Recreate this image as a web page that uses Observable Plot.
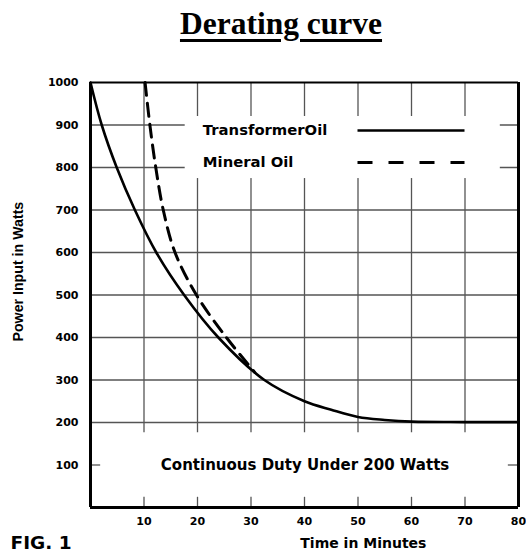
<!DOCTYPE html>
<html>
<head>
<meta charset="utf-8">
<script src="https://cdn.jsdelivr.net/npm/d3@7"></script>
<script src="https://cdn.jsdelivr.net/npm/@observablehq/plot@0.6"></script>
<style>
  body { margin: 0; background: #fff; }
  #wrap { position: relative; width: 526px; height: 553px; overflow: hidden; }
  #title {
    position: absolute; left: 0; top: 7.6px; width: 562px; text-align: center;
    font-family: "Liberation Serif", "Times New Roman", serif; font-weight: bold;
    font-size: 31.5px; line-height: 1; color: #000;
    text-decoration: underline; text-decoration-thickness: 3px; text-underline-offset: 5px;
  }
  #chart { position: absolute; left: 0; top: 0; }
</style>
</head>
<body>
<div id="wrap">
  <div id="chart"></div>
  <div id="title">Derating curve</div>
</div>
<script>
// Data
const transformerTime  = [0, 2.1, 4.9, 8.3, 12.3, 17.5, 23.9, 32.5, 40, 45, 50, 55, 60, 70, 80];
const transformerPower = [1000, 900, 800, 700, 600, 500, 400, 300, 250, 230, 213, 206, 202, 201, 201];
const mineralTime  = [10.2, 11.1, 12.2, 13.6, 15.8, 19.8, 25.4, 30.7];
const mineralPower = [1000, 900, 800, 700, 600, 500, 400, 318];

const xTicks = [10, 20, 30, 40, 50, 60, 70, 80];
const yTicks = [100, 200, 300, 400, 500, 600, 700, 800, 900, 1000];
const gridY = [200, 300, 400, 500, 600, 700, 800, 900];
const gridX = [10, 20, 30, 40, 50, 60, 70];

const seriesNames = ["TransformerOil", "Mineral Oil"];
const legendY = [887, 812];
const legendTextX = 21;
const legendLineX = [50, 70];
const legendBox = [{x1: 17.7, x2: 76.6, y1: 774, y2: 920}];

const note = "Continuous Duty Under 200 Watts";
const xLabel = "Time in Minutes";
const yLabel = "Power Input in Watts";
const figLabel = "FIG. 1";

const transformer = transformerTime.map((t, i) => ({t, p: transformerPower[i]}));
const mineral = mineralTime.map((t, i) => ({t, p: mineralPower[i]}));

const tickFont = {fontFamily: "DejaVu Sans", fontWeight: "bold", fontSize: 11};
const gridStyle = {stroke: "#555", strokeWidth: 1.3};

const chart = Plot.plot({
  width: 526,
  height: 553,
  marginLeft: 90,
  marginRight: 8,
  marginTop: 82,
  marginBottom: 46,
  x: {domain: [0, 80]},
  y: {domain: [0, 1000]},
  style: {background: "white", color: "black", overflow: "visible"},
  marks: [
    // grid
    Plot.ruleY(gridY, {x1: 0, x2: 80, ...gridStyle}),
    Plot.ruleX(gridX, {y1: 176, y2: 1000, ...gridStyle}),
    Plot.ruleX(gridX, {y1: 0, y2: 24, ...gridStyle}),
    Plot.ruleY([100], {x1: 0, x2: 1.9, ...gridStyle}),
    Plot.ruleY([100], {x1: 78.1, x2: 80, ...gridStyle}),
    // legend box
    Plot.rect(legendBox, {x1: "x1", x2: "x2", y1: "y1", y2: "y2", fill: "white"}),
    // frame
    Plot.ruleY([1000], {x1: 0, x2: 80, stroke: "black", strokeWidth: 2}),
    Plot.ruleY([0], {x1: 0, x2: 80, stroke: "black", strokeWidth: 3}),
    Plot.ruleX([0], {y1: 0, y2: 1000, stroke: "black", strokeWidth: 3}),
    Plot.ruleX([80], {y1: 0, y2: 1000, stroke: "black", strokeWidth: 3}),
    // curves
    Plot.line(transformer, {x: "t", y: "p", curve: "catmull-rom", stroke: "black", strokeWidth: 2.6}),
    Plot.line(mineral, {x: "t", y: "p", curve: "catmull-rom", stroke: "black", strokeWidth: 3, strokeDasharray: "13,8"}),
    // legend
    Plot.text(seriesNames, {x: legendTextX, y: (d, i) => legendY[i], text: d => d, textAnchor: "start",
      fontFamily: "DejaVu Sans", fontWeight: "bold", fontSize: 14.8, fill: "black"}),
    Plot.ruleY([legendY[0]], {x1: legendLineX[0], x2: legendLineX[1], stroke: "black", strokeWidth: 2.5}),
    Plot.ruleY([legendY[1]], {x1: legendLineX[0], x2: legendLineX[1], stroke: "black", strokeWidth: 3, strokeDasharray: "15,16"}),
    // note
    Plot.text([note], {x: 40.1, y: 100, text: d => d, fontFamily: "DejaVu Sans", fontWeight: "bold", fontSize: 15, fill: "black"}),
    // axes
    Plot.axisX(xTicks, {tickSize: 0, tickPadding: 10, label: null, tickFormat: d => String(d), ...tickFont}),
    Plot.axisY(yTicks, {tickSize: 0, tickPadding: 12, label: null, tickFormat: d => String(d), ...tickFont}),
    // axis labels
    Plot.text([xLabel], {x: 51, frameAnchor: "bottom", dy: 40, textAnchor: "middle", text: d => d,
      fontFamily: "DejaVu Sans", fontWeight: "bold", fontSize: 14, fill: "black"}),
    Plot.text([yLabel], {x: -13.5, y: 555, rotate: -90, textAnchor: "middle", text: d => d,
      fontFamily: "Liberation Sans", fontWeight: "bold", fontSize: 14.2, fill: "black"}),
    Plot.text([figLabel], {frameAnchor: "bottom-left", dx: -80, dy: 41, textAnchor: "start", text: d => d,
      fontFamily: "DejaVu Sans", fontWeight: "bold", fontSize: 18.5, fill: "black"})
  ]
});
document.getElementById("chart").appendChild(chart);
</script>
</body>
</html>
